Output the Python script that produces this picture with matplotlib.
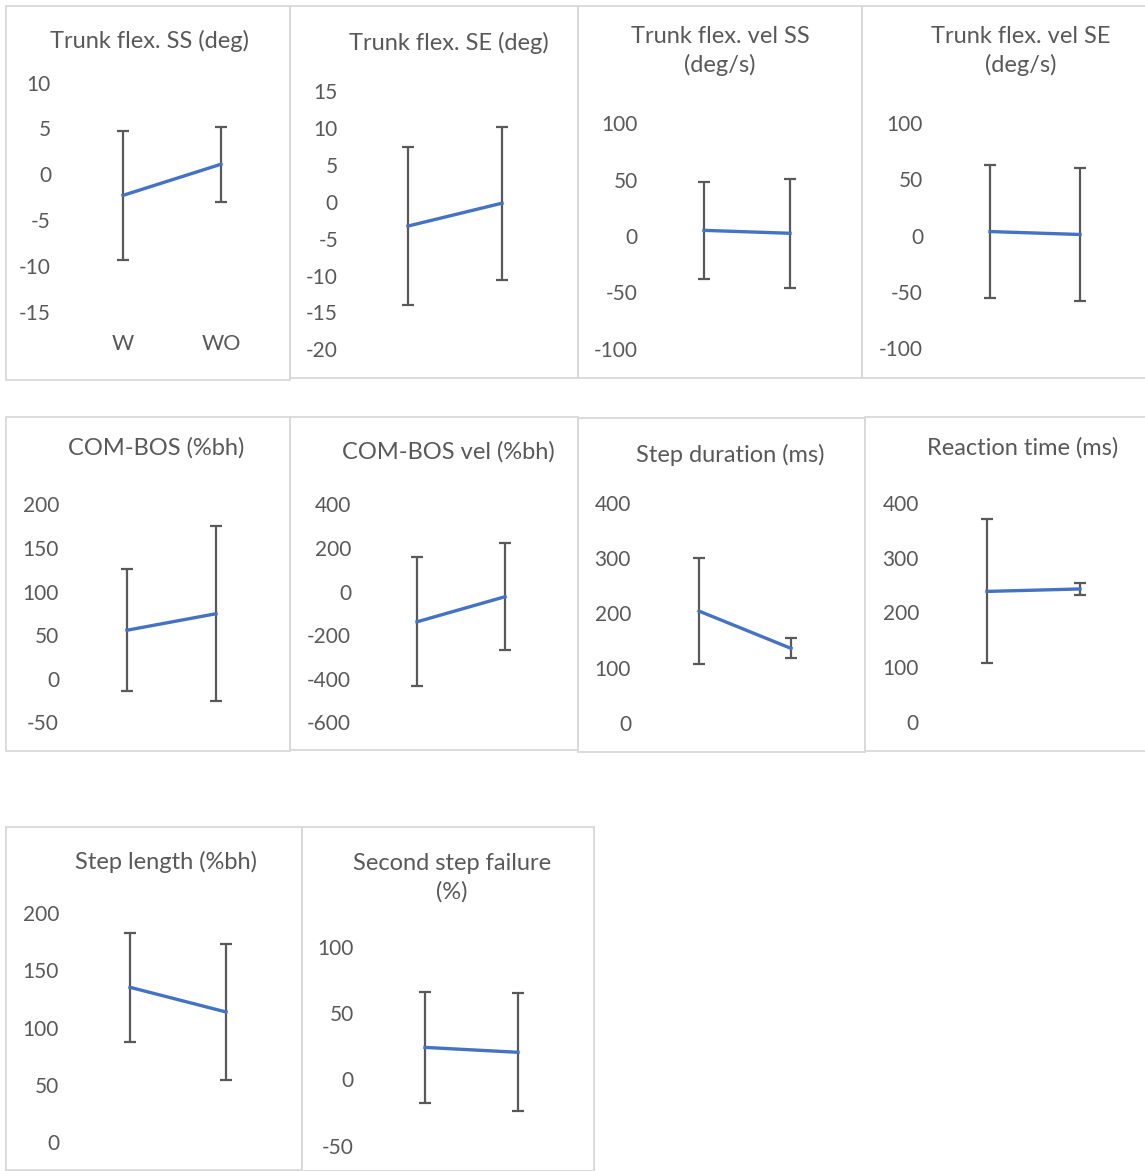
import numpy as np
import matplotlib.pyplot as plt
from matplotlib.patches import Rectangle

plt.rcParams['font.family'] = ['Lato', 'DejaVu Sans']
plt.rcParams['axes.unicode_minus'] = False

# ---- data ----
categories = ['W', 'WO']
titles = [
    'Trunk flex. SS (deg)', 'Trunk flex. SE (deg)',
    'Trunk flex. vel SS\n(deg/s)', 'Trunk flex. vel SE\n(deg/s)',
    'COM-BOS (%bh)', 'COM-BOS vel (%bh)',
    'Step duration (ms)', 'Reaction time (ms)',
    'Step length (%bh)', 'Second step failure\n(%)',
]
means = [
    [-2.3, 1.1], [-3.3, -0.2],
    [5.0, 2.4], [3.5, 0.9],
    [55.6, 74.5], [-139, -24],
    [203.5, 135.5], [238.5, 243],
    [135.2, 113.6], [24.1, 20.4],
]
sds = [
    [7.07, 4.1], [10.66, 10.36],
    [42.8, 48.0], [59.2, 59.3],
    [69.8, 100.3], [296, 244.5],
    [96.9, 18.2], [131.5, 10.5],
    [47.7, 59.4], [41.6, 44.4],
]
# y axis: min, max, step
y_axes = [
    (-15, 10, 5), (-20, 15, 5),
    (-100, 100, 50), (-100, 100, 50),
    (-50, 200, 50), (-600, 400, 200),
    (0, 400, 100), (0, 400, 100),
    (0, 200, 50), (-50, 100, 50),
]

# ---- layout (pixels) ----
W, H = 1145, 1171
boxes = [  # left, top, right, bottom
    (6, 6, 290, 380), (290, 6, 578, 378), (578, 6, 862, 378), (862, 6, 1146, 378),
    (6, 417, 290, 751), (290, 417, 578, 750), (578, 418, 865, 752), (865, 417, 1146, 751),
    (6, 827, 302, 1170), (302, 827, 594, 1171),
]
cat_px = [(123, 221), (408, 502), (704, 790), (990, 1080),
          (127, 216), (417, 505), (699, 791), (987, 1080),
          (130, 226), (425, 518)]
tick_px = [(82.7, 311.7), (91, 349.3), (123, 349), (123, 348),
           (504.3, 722.3), (504.3, 722.3), (503.3, 722.7), (503, 722),
           (913.3, 1141.7), (946.7, 1145.7)]
label_right = [51, 338, 638, 923, 59, 351, 631, 919, 59, 354]
title_pos = [(150, 41), (449, 43), (720, 51), (1021, 51),
             (156, 448), (448, 452), (730, 455), (1023, 448),
             (166, 862), (452, 878)]

text_col = '#595959'
fig = plt.figure(figsize=(W / 100, H / 100), dpi=100)


def fx(px):
    return px / W


def fy(py):
    return 1 - py / H


for i in range(len(titles)):
    l, t, r, b = boxes[i]
    fig.add_artist(Rectangle((fx(l), fy(b)), (r - l) / W, (b - t) / H,
                             transform=fig.transFigure, fill=False,
                             ec='#d9d9d9', lw=1.3))
    xw, xwo = cat_px[i]
    d = (xwo - xw) / 2
    ytop, ybot = tick_px[i]
    ax = fig.add_axes([fx(xw - d), fy(ybot), (xwo - xw + 2 * d) / W, (ybot - ytop) / H])
    ax.patch.set_visible(False)
    ax.errorbar([0, 1], means[i], yerr=sds[i], color='#4472c4', lw=2.4,
                ecolor='#595959', elinewidth=1.6, capsize=4, capthick=1.6)
    ymin, ymax, step = y_axes[i]
    ax.set_xlim(-0.5, 1.5)
    ax.set_ylim(ymin, ymax)
    yt = np.arange(ymin, ymax + step / 2, step)
    ax.set_yticks(yt, [f'{v:g}' for v in yt])
    if i == 0:
        ax.set_xticks([0, 1], categories)
    else:
        ax.set_xticks([])
    for s in ax.spines.values():
        s.set_visible(False)
    pad = (xw - d - label_right[i]) * 0.72
    ax.tick_params(axis='y', length=0, labelsize=15, labelcolor=text_col, pad=pad)
    ax.tick_params(axis='x', length=0, labelsize=15.5, labelcolor=text_col, pad=16)
    cx, cy = title_pos[i]
    fig.text(fx(cx), fy(cy), titles[i], ha='center', va='center',
             fontsize=17, color=text_col, linespacing=1.4)

fig.savefig('out.png', dpi=100)
